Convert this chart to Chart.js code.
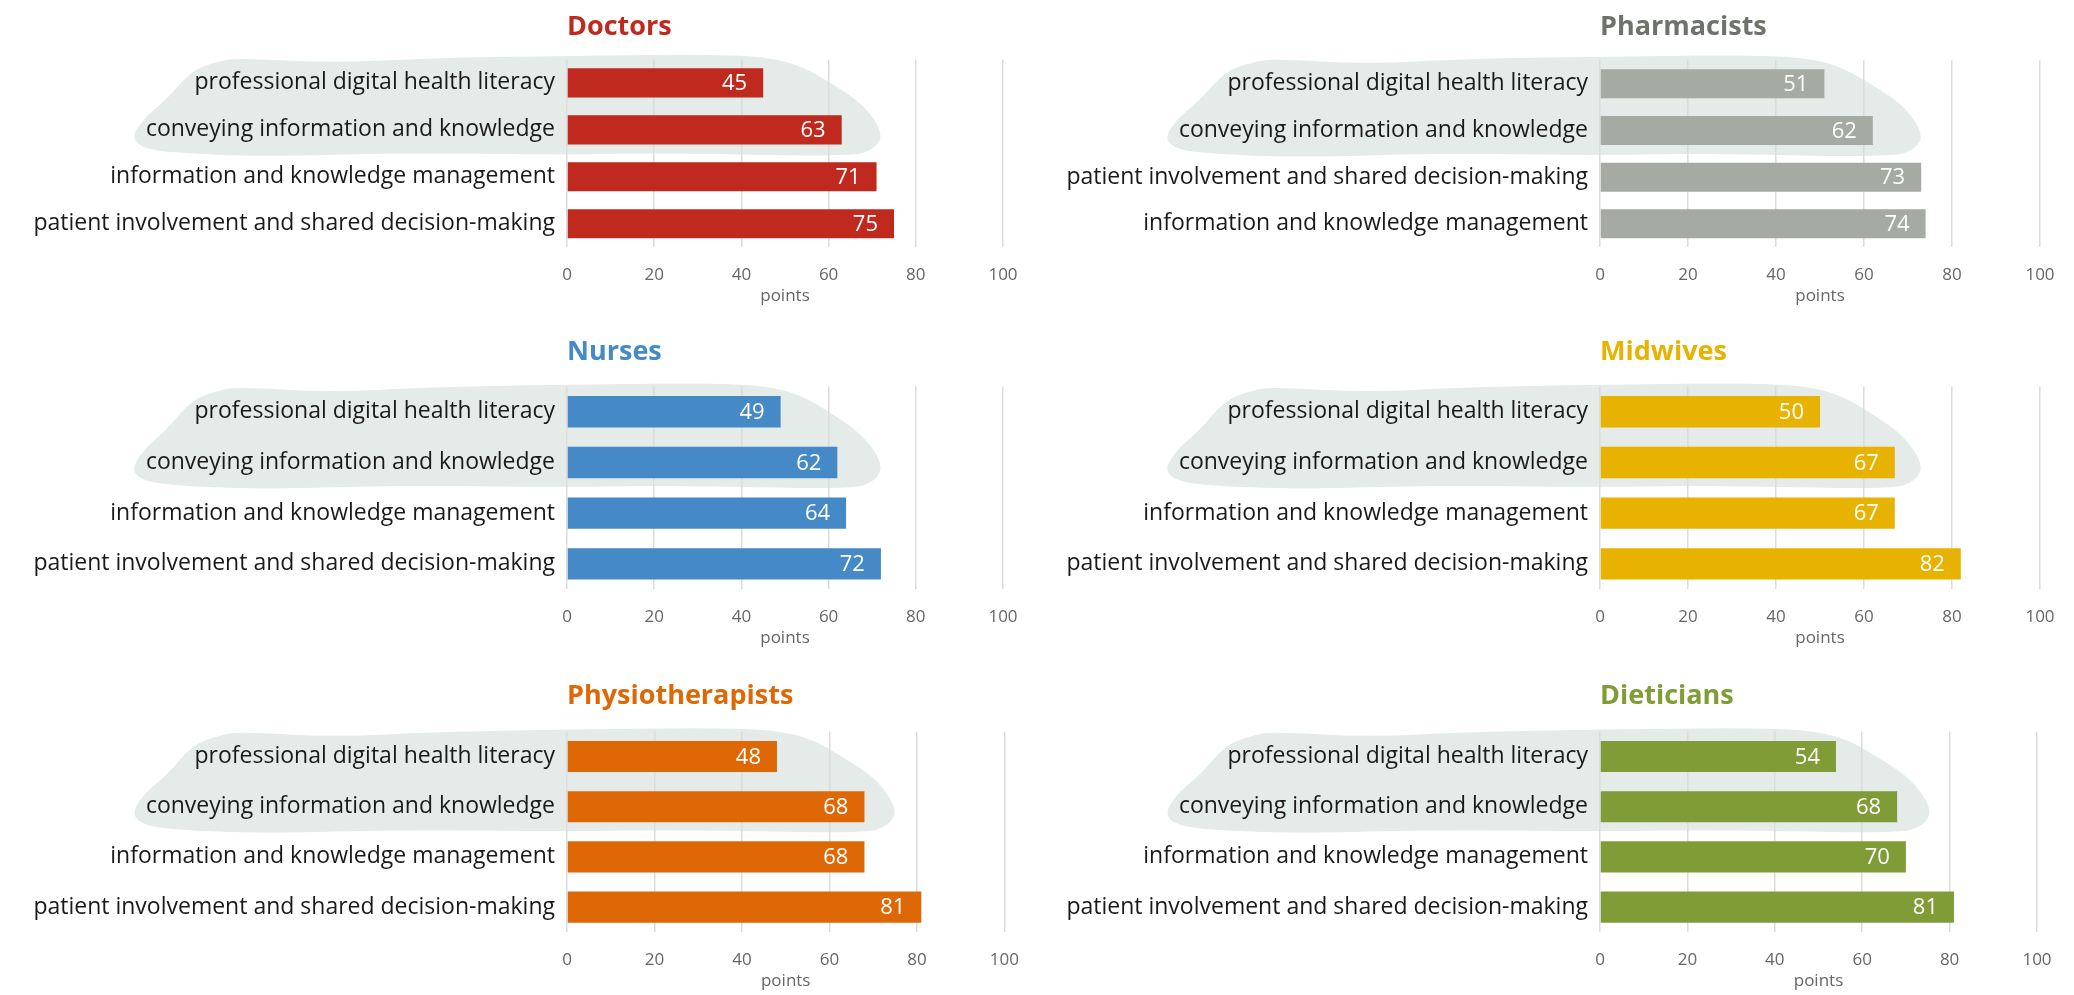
<!DOCTYPE html>
<html>
<head>
<meta charset="utf-8">
<script src="https://cdn.jsdelivr.net/npm/chart.js@4.4.1/dist/chart.umd.min.js"></script>
<style>
  html, body { margin: 0; padding: 0; background: #fff; overflow: hidden; }
  canvas { position: absolute; }
</style>
</head>
<body>
<canvas id="doctors"></canvas>
<canvas id="pharmacists"></canvas>
<canvas id="nurses"></canvas>
<canvas id="midwives"></canvas>
<canvas id="physio"></canvas>
<canvas id="dieticians"></canvas>
<script>
// categories
var PDHL = 'professional digital health literacy';
var CIK = 'conveying information and knowledge';
var IKM = 'information and knowledge management';
var PISD = 'patient involvement and shared decision-making';

// data per profession (top to bottom)
var doctorsLabels = [PDHL, CIK, IKM, PISD];
var doctorsValues = [45, 63, 71, 75];

var pharmacistsLabels = [PDHL, CIK, PISD, IKM];
var pharmacistsValues = [51, 62, 73, 74];

var nursesLabels = [PDHL, CIK, IKM, PISD];
var nursesValues = [49, 62, 64, 72];

var midwivesLabels = [PDHL, CIK, IKM, PISD];
var midwivesValues = [50, 67, 67, 82];

var physioLabels = [PDHL, CIK, IKM, PISD];
var physioValues = [48, 68, 68, 81];

var dieticiansLabels = [PDHL, CIK, IKM, PISD];
var dieticiansValues = [54, 68, 70, 81];

var xTicks = [0, 20, 40, 60, 80, 100];

var FONT = "'Open Sans', 'Noto Sans', sans-serif";

// hand drawn highlight behind the first two rows (normalised outline)
var blobShape = [
  [0.004, 0.79], [0.023, 0.60], [0.049, 0.45], [0.083, 0.16], [0.12, 0.07],
  [0.146, 0.04], [0.27, 0.09], [0.40, 0.04], [0.58, 0.02], [0.80, 0.0],
  [0.88, 0.07], [0.935, 0.30], [0.975, 0.50], [1.0, 0.77], [0.99, 0.92],
  [0.958, 1.0], [0.71, 0.96], [0.58, 0.98], [0.36, 0.96], [0.18, 1.0],
  [0.049, 0.96], [0.013, 0.90]
];

var blobPlugin = {
  id: 'blob',
  beforeDraw: function(chart) {
    var o = chart.options.plugins.blob;
    var ca = chart.chartArea;
    var xs = chart.scales.x, ys = chart.scales.y;
    var L = ca.left - 438;
    var R = xs.getPixelForValue(o.end);
    var T = ys.getPixelForValue(0) - 29;
    var B = ys.getPixelForValue(1) + 27;
    var pts = blobShape.map(function(p) { return [L + p[0] * (R - L), T + p[1] * (B - T)]; });
    var ctx = chart.ctx;
    ctx.save();
    ctx.fillStyle = '#e4ebe8';
    ctx.beginPath();
    var n = pts.length;
    var m0 = [(pts[n - 1][0] + pts[0][0]) / 2, (pts[n - 1][1] + pts[0][1]) / 2];
    ctx.moveTo(m0[0], m0[1]);
    for (var i = 0; i < n; i++) {
      var a = pts[i], b = pts[(i + 1) % n];
      ctx.quadraticCurveTo(a[0], a[1], (a[0] + b[0]) / 2, (a[1] + b[1]) / 2);
    }
    ctx.closePath();
    ctx.fill();
    ctx.restore();
  }
};

var valuePlugin = {
  id: 'values',
  afterDatasetsDraw: function(chart) {
    var ctx = chart.ctx;
    var meta = chart.getDatasetMeta(0);
    var data = chart.data.datasets[0].data;
    ctx.save();
    ctx.fillStyle = '#ffffff';
    ctx.font = '22px ' + FONT;
    ctx.textAlign = 'right';
    ctx.textBaseline = 'middle';
    meta.data.forEach(function(bar, i) {
      ctx.fillText(data[i], bar.x - 16, bar.y + 1);
    });
    ctx.restore();
  }
};

var panels = [
  {id: 'doctors', title: 'Doctors', color: '#c0291e', titleColor: '#c0291e', labels: doctorsLabels, values: doctorsValues,
   left: 0, top: 0, height: 306, yWidth: 567, padRight: 34, titleGap: 16, blobEnd: 72.5},
  {id: 'pharmacists', title: 'Pharmacists', color: '#a5aba3', titleColor: '#6d726b', labels: pharmacistsLabels, values: pharmacistsValues,
   left: 1037, top: 0, height: 306, yWidth: 563, padRight: 34, titleGap: 17, blobEnd: 73.5},
  {id: 'nurses', title: 'Nurses', color: '#4589c6', titleColor: '#4589c6', labels: nursesLabels, values: nursesValues,
   left: 0, top: 325, height: 323, yWidth: 567, padRight: 34, titleGap: 18, blobEnd: 72.5},
  {id: 'midwives', title: 'Midwives', color: '#e8b200', titleColor: '#e8b200', labels: midwivesLabels, values: midwivesValues,
   left: 1037, top: 325, height: 323, yWidth: 563, padRight: 34, titleGap: 18, blobEnd: 73.5},
  {id: 'physio', title: 'Physiotherapists', color: '#df6806', titleColor: '#df6806', labels: physioLabels, values: physioValues,
   left: 0, top: 669, height: 322, yWidth: 567, padRight: 27, titleGap: 19, blobEnd: 75.5},
  {id: 'dieticians', title: 'Dieticians', color: '#7f9c37', titleColor: '#7f9c37', labels: dieticiansLabels, values: dieticiansValues,
   left: 1037, top: 669, height: 322, yWidth: 563, padRight: 37, titleGap: 19, blobEnd: 76}
];

panels.forEach(function(p) {
  var canvas = document.getElementById(p.id);
  canvas.width = 1037;
  canvas.height = p.height;
  canvas.style.left = p.left + 'px';
  canvas.style.top = p.top + 'px';

  new Chart(canvas, {
    type: 'bar',
    data: {
      labels: p.labels,
      datasets: [{
        data: p.values,
        backgroundColor: p.color,
        categoryPercentage: 1,
        barPercentage: 0.62
      }]
    },
    plugins: [blobPlugin, valuePlugin],
    options: {
      indexAxis: 'y',
      responsive: false,
      animation: false,
      devicePixelRatio: 1,
      layout: {padding: {left: 0, right: p.padRight, top: 0, bottom: 0}},
      plugins: {
        legend: {display: false},
        tooltip: {enabled: false},
        blob: {end: p.blobEnd},
        title: {
          display: true,
          text: p.title,
          align: 'start',
          fullSize: false,
          color: p.titleColor,
          font: {family: FONT, size: 27, weight: 'bold'},
          padding: {top: 11, bottom: p.titleGap}
        }
      },
      scales: {
        x: {
          min: 0,
          max: 100,
          afterBuildTicks: function(scale) {
            scale.ticks = xTicks.map(function(v) { return {value: v}; });
          },
          grid: {color: '#dcdcdc', lineWidth: 1.5, drawTicks: false},
          border: {display: false},
          ticks: {padding: 18, color: '#666666', font: {family: FONT, size: 17}},
          title: {display: true, text: 'points', color: '#666666', font: {family: FONT, size: 17}, padding: {top: -18, bottom: 0}}
        },
        y: {
          grid: {display: false, drawTicks: false},
          border: {display: false},
          ticks: {padding: 12, color: '#1a1a1a', font: {family: FONT, size: 23}},
          afterFit: function(scale) { scale.width = p.yWidth; }
        }
      }
    }
  });
});
</script>
</body>
</html>
